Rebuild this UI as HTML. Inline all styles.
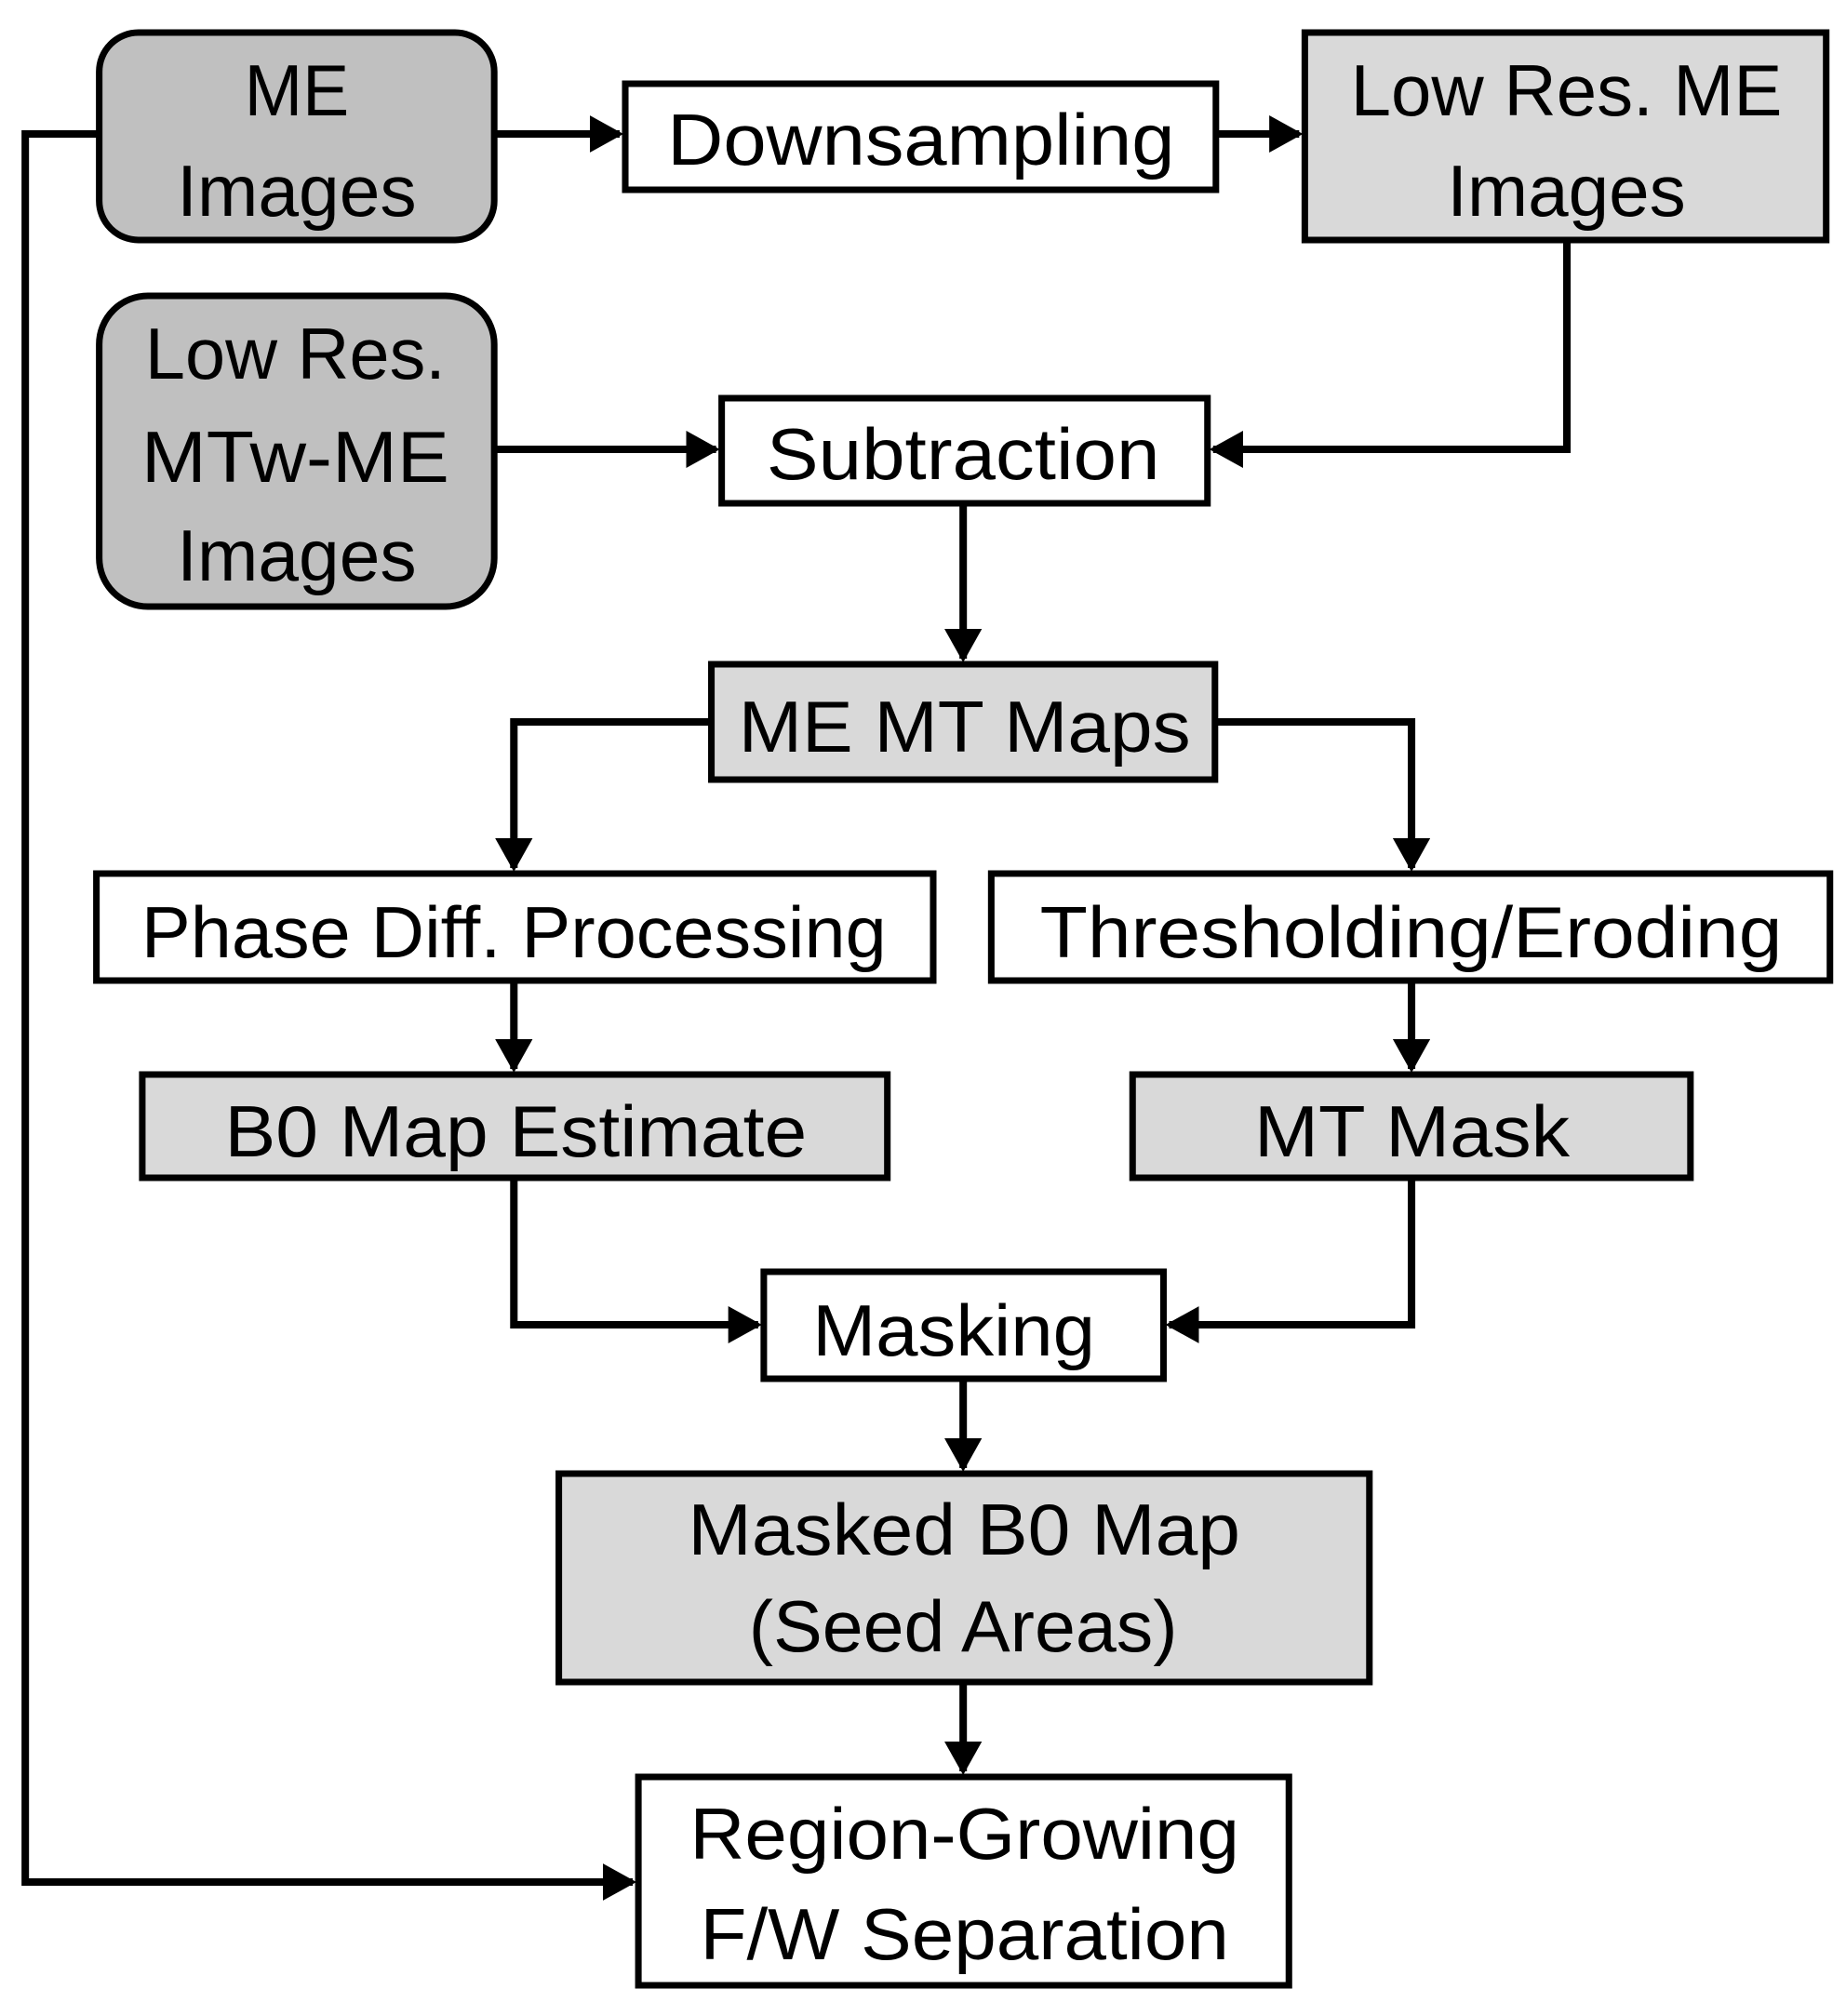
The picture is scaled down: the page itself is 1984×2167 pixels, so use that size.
<!DOCTYPE html>
<html><head><meta charset="utf-8"><style>html,body{margin:0;padding:0;background:#fff}svg{display:block}</style></head>
<body>
<svg width="1984" height="2167" viewBox="0 0 1984 2167" xmlns="http://www.w3.org/2000/svg">
<defs>
<marker id="a" markerWidth="4.5" markerHeight="5" refX="4" refY="2.5" orient="auto" markerUnits="strokeWidth">
<path d="M0,0 L4.5,2.5 L0,5 z" fill="#000"/>
</marker>
</defs>
<g transform="scale(1.006,1)">
<g fill="none" stroke="#000" stroke-width="8" stroke-linejoin="miter">
<line x1="528" y1="144" x2="662" y2="144" marker-end="url(#a)"/>
<line x1="1299" y1="144" x2="1388" y2="144" marker-end="url(#a)"/>
<polyline points="106,144 27,144 27,2023 676,2023" marker-end="url(#a)"/>
<polyline points="1674,258 1674,483 1296,483" marker-end="url(#a)"/>
<line x1="528" y1="483" x2="765" y2="483" marker-end="url(#a)"/>
<line x1="1029" y1="541" x2="1029" y2="708" marker-end="url(#a)"/>
<polyline points="760,776 549,776 549,933" marker-end="url(#a)"/>
<polyline points="1298,776 1508,776 1508,933" marker-end="url(#a)"/>
<line x1="549" y1="1054" x2="549" y2="1149" marker-end="url(#a)"/>
<line x1="1508" y1="1054" x2="1508" y2="1149" marker-end="url(#a)"/>
<polyline points="549,1266 549,1424 810,1424" marker-end="url(#a)"/>
<polyline points="1508,1266 1508,1424 1249,1424" marker-end="url(#a)"/>
<line x1="1029" y1="1482" x2="1029" y2="1578" marker-end="url(#a)"/>
<line x1="1029" y1="1808" x2="1029" y2="1904" marker-end="url(#a)"/>
</g>
<g stroke="#000" stroke-width="7">
<rect x="106" y="35" width="422" height="223" rx="42" fill="#c0c0c0"/>
<rect x="668" y="90" width="631" height="114" fill="#fff"/>
<rect x="1394" y="35" width="557" height="223" fill="#d9d9d9"/>
<rect x="106" y="318" width="422" height="334" rx="52" fill="#c0c0c0"/>
<rect x="771" y="428" width="519" height="113" fill="#fff"/>
<rect x="760" y="714" width="538" height="124" fill="#d9d9d9"/>
<rect x="103" y="939" width="894" height="115" fill="#fff"/>
<rect x="1059" y="939" width="896" height="115" fill="#fff"/>
<rect x="152" y="1155" width="796" height="111" fill="#d9d9d9"/>
<rect x="1210" y="1155" width="596" height="111" fill="#d9d9d9"/>
<rect x="816" y="1367" width="427" height="115" fill="#fff"/>
<rect x="597" y="1584" width="866" height="224" fill="#d9d9d9"/>
<rect x="682" y="1910" width="695" height="224" fill="#fff"/>
</g>
<g font-family="Liberation Sans, sans-serif" font-size="78" fill="#000">
<text x="261" y="124" textLength="112" lengthAdjust="spacingAndGlyphs">ME</text>
<text x="189" y="232" textLength="256" lengthAdjust="spacingAndGlyphs">Images</text>
<text x="713" y="177" textLength="542" lengthAdjust="spacingAndGlyphs">Downsampling</text>
<text x="1443" y="124" textLength="461" lengthAdjust="spacingAndGlyphs">Low Res. ME</text>
<text x="1546" y="232" textLength="255" lengthAdjust="spacingAndGlyphs">Images</text>
<text x="155" y="407" textLength="321" lengthAdjust="spacingAndGlyphs">Low Res.</text>
<text x="151" y="518" textLength="329" lengthAdjust="spacingAndGlyphs">MTw-ME</text>
<text x="189" y="624" textLength="256" lengthAdjust="spacingAndGlyphs">Images</text>
<text x="819" y="515" textLength="420" lengthAdjust="spacingAndGlyphs">Subtraction</text>
<text x="789" y="808" textLength="483" lengthAdjust="spacingAndGlyphs">ME MT Maps</text>
<text x="151" y="1029" textLength="796" lengthAdjust="spacingAndGlyphs">Phase Diff. Processing</text>
<text x="1111" y="1029" textLength="793" lengthAdjust="spacingAndGlyphs">Thresholding/Eroding</text>
<text x="240" y="1243" textLength="622" lengthAdjust="spacingAndGlyphs">B0 Map Estimate</text>
<text x="1340" y="1243" textLength="337" lengthAdjust="spacingAndGlyphs">MT Mask</text>
<text x="868" y="1457" textLength="302" lengthAdjust="spacingAndGlyphs">Masking</text>
<text x="735" y="1671" textLength="590" lengthAdjust="spacingAndGlyphs">Masked B0 Map</text>
<text x="800" y="1775" textLength="458" lengthAdjust="spacingAndGlyphs">(Seed Areas)</text>
<text x="737" y="1998" textLength="587" lengthAdjust="spacingAndGlyphs">Region-Growing</text>
<text x="748" y="2106" textLength="565" lengthAdjust="spacingAndGlyphs">F/W Separation</text>
</g>
</g>
</svg>
</body></html>
